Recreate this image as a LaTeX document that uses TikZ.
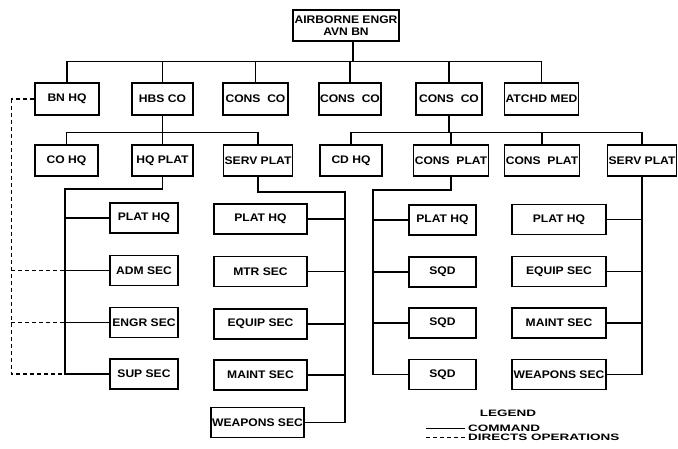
\documentclass[tikz,border=0pt]{standalone}
\usepackage{fontspec}
\setsansfont{Liberation Sans}
\newfontfamily\boxf[FakeStretch=1.1]{Liberation Sans}
\newfontfamily\legf[FakeStretch=1.45]{Liberation Sans}
\begin{document}
\begin{tikzpicture}[x=1pt,y=-1pt,
  box/.style={draw,line width=1.3pt,minimum height=30pt,inner sep=1pt,
    font=\fontsize{11}{12.5}\selectfont\boxf\bfseries,align=center},
  cmd/.style={line width=1.3pt},
  dop/.style={line width=1.2pt,dash pattern=on 4pt off 3pt},
  leg/.style={font=\fontsize{9.3}{10}\selectfont\legf\bfseries,inner sep=0pt}]
\useasboundingbox (0,0) rectangle (678,449);
% top
\node[box,minimum width=106pt,minimum height=31pt] (top) at (346,25.5) {AIRBORNE ENGR\\AVN BN};
% row 1
\node[box,minimum width=64pt,minimum height=32pt] (bnhq) at (67,99) {BN HQ};
\node[box,minimum width=61pt,minimum height=32pt] (hbs) at (162.5,99) {HBS CO};
\node[box,minimum width=65pt,minimum height=32pt] (consa) at (255.5,99) {CONS\ \ CO};
\node[box,minimum width=60pt,minimum height=32pt] (consb) at (350,99) {CONS\ \ CO};
\node[box,minimum width=66pt,minimum height=32pt] (consc) at (449,99) {CONS\ \ CO};
\node[box,minimum width=73pt,minimum height=32pt] (med) at (541.5,99) {ATCHD MED};
% row 2
\node[box,minimum width=63pt,minimum height=31pt] (cohq) at (66.5,160.5) {CO HQ};
\node[box,minimum width=61pt,minimum height=31pt] (hqplat) at (162.5,160.5) {HQ\ PLAT};
\node[box,minimum width=68pt,minimum height=31pt] (spa) at (258,160.5) {SERV PLAT};
\node[box,minimum width=62pt,minimum height=31pt] (cdhq) at (351,160.5) {CD HQ};
\node[box,minimum width=72pt,minimum height=31pt] (cpa) at (451,160.5) {CONS\ \ PLAT};
\node[box,minimum width=72pt,minimum height=31pt] (cpb) at (542,160.5) {CONS\ \ PLAT};
\node[box,minimum width=66pt,minimum height=31pt] (spb) at (642,160.5) {SERV PLAT};
% column A
\node[box,minimum width=68pt] (a1) at (144,218) {PLAT HQ};
\node[box,minimum width=68pt] (a2) at (144,270.5) {ADM SEC};
\node[box,minimum width=68pt] (a3) at (144,322.5) {ENGR SEC};
\node[box,minimum width=68pt] (a4) at (144,374) {SUP SEC};
% column B
\node[box,minimum width=93pt] (b1) at (260.5,219) {PLAT HQ};
\node[box,minimum width=93pt] (b2) at (260.5,271.5) {MTR SEC};
\node[box,minimum width=93pt] (b3) at (260.5,324) {EQUIP SEC};
\node[box,minimum width=93pt] (b4) at (260.5,375) {MAINT SEC};
\node[box,minimum width=91pt] (b5) at (257.5,422.5) {WEAPONS SEC};
% column C
\node[box,minimum width=67pt] (c1) at (442.5,220) {PLAT HQ};
\node[box,minimum width=67pt] (c2) at (442.5,272) {SQD};
\node[box,minimum width=67pt] (c3) at (442.5,323) {SQD};
\node[box,minimum width=67pt] (c4) at (442.5,374.5) {SQD};
% column D
\node[box,minimum width=94pt] (d1) at (559,219.5) {PLAT HQ};
\node[box,minimum width=94pt] (d2) at (559,271.5) {EQUIP SEC};
\node[box,minimum width=94pt] (d3) at (559,323) {MAINT SEC};
\node[box,minimum width=94pt] (d4) at (559,374.5) {WEAPONS SEC};
% top bus
\draw[cmd] ([xshift=7pt]top.south) -- ++(0,20) coordinate (j1);
\draw[cmd] (bnhq.north) |- (j1);
\draw[cmd] (med.north) |- (j1);
\foreach \n in {hbs,consa,consb,consc} \draw[cmd] (\n.north) -- (\n.north |- j1);
% row 2 left bus
\draw[cmd] (hbs.south) -- ++(0,17) coordinate (j2);
\draw[cmd] (cohq.north) |- (j2);
\draw[cmd] (spa.north) |- (j2);
\draw[cmd] (hqplat.north) -- (j2);
% row 2 right bus
\draw[cmd] (consc.south) -- ++(0,17) coordinate (j3);
\draw[cmd] (cdhq.north) |- (j3);
\draw[cmd] (spb.north) |- (j3);
\draw[cmd] (cpa.north) -- (cpa.north |- j3);
\draw[cmd] (cpb.north) -- (cpb.north |- j3);
% column A
\coordinate (ka) at (65,189);
\draw[cmd] (hqplat.south) |- (ka) -- (ka |- a4.west) -- (a4.west);
\foreach \n in {a1,a2,a3} \draw[cmd] (\n.west) -- (\n.west -| ka);
% dashed directs operations
\draw[dop] (bnhq.west) -- ++(-23,0) coordinate (kd);
\draw[dop] (kd) |- (a4.west -| ka);
\draw[dop] (a2.west -| kd) -- (a2.west -| ka);
\draw[dop] (a3.west -| kd) -- (a3.west -| ka);
% column B
\coordinate (kb) at (345,192);
\draw[cmd] (spa.south) |- (kb) -- (kb |- b5.east) -- (b5.east);
\foreach \n in {b1,b2,b3,b4} \draw[cmd] (\n.east) -- (\n.east -| kb);
% column C
\coordinate (kc) at (373,190);
\draw[cmd] (cpa.south) |- (kc) -- (kc |- c4.west) -- (c4.west);
\foreach \n in {c1,c2,c3} \draw[cmd] (\n.west) -- (\n.west -| kc);
% column D
\coordinate (kdd) at (spb.south |- d4.east);
\draw[cmd] (spb.south) -- (kdd) -- (d4.east);
\foreach \n in {d1,d2,d3} \draw[cmd] (\n.east) -- (\n.east -| kdd);
% legend
\node[leg] (lg) at (508,413) {LEGEND};
\coordinate (l1a) at (426,428);
\coordinate (l1b) at (465,428);
\coordinate (l2a) at (426,437);
\coordinate (l2b) at (465,437);
\draw[cmd,line width=1pt] (l1a) -- (l1b);
\draw[dop,line width=1pt] (l2a) -- (l2b);
\node[leg,anchor=west] (lc) at (468,428) {COMMAND};
\node[leg,anchor=west] (ld) at (468,437.5) {DIRECTS OPERATIONS};
\end{tikzpicture}
\end{document}
